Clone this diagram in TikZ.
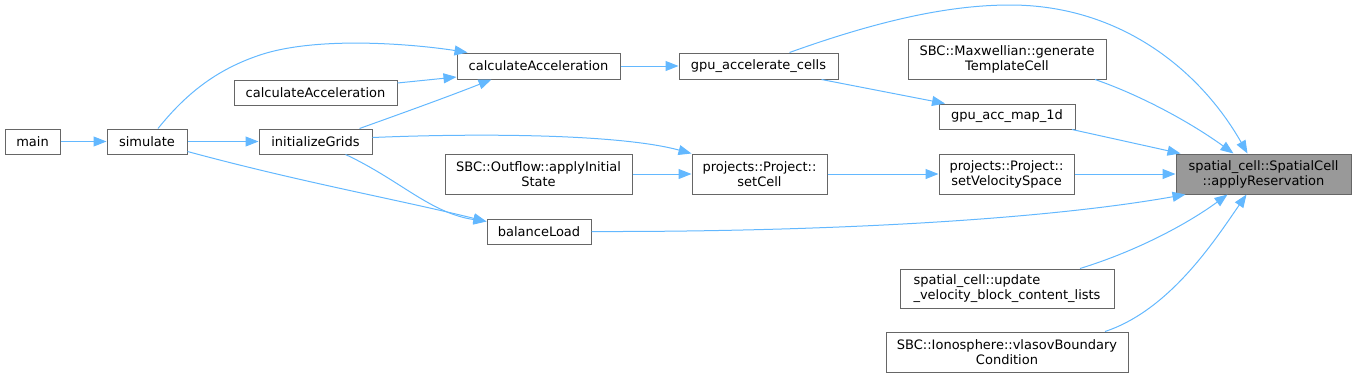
\documentclass[tikz,border=0pt]{standalone}
\usepackage{fontspec}
\setmainfont{DejaVu Sans}
\usetikzlibrary{arrows.meta}
\definecolor{edgeblue}{HTML}{63B8FF}
\definecolor{nodeborder}{HTML}{666666}
\definecolor{hifill}{HTML}{999999}
\begin{document}
\begin{tikzpicture}[x=1pt,y=-1pt,
  fn/.style={draw=nodeborder, line width=1pt, fill=white, inner sep=0pt, align=center,
     font=\fontsize{13}{15}\selectfont, anchor=center},
  hi/.style={fn, fill=hifill},
  call/.style={draw=edgeblue, line width=1pt, -{Triangle[length=13pt,width=10pt]}, edgeblue}]
\useasboundingbox (0,0) rectangle (1356,378);
% nodes
\node[fn, minimum width=55pt, minimum height=25pt] (main) at (32.5,141.5) {main};
\node[fn, minimum width=80pt, minimum height=25pt] (simulate) at (147,141.5) {simulate};
\node[fn, minimum width=163pt, minimum height=26pt] (calcTop) at (538.5,66) {calculateAcceleration};
\node[fn, minimum width=163pt, minimum height=25pt] (calcTwo) at (315.5,92.5) {calculateAcceleration};
\node[fn, minimum width=113pt, minimum height=25pt] (initGrids) at (315.5,141.5) {initializeGrids};
\node[fn, minimum width=159pt, minimum height=26pt] (gpuCells) at (758.5,66) {gpu\_accelerate\_cells};
\node[fn, minimum width=187pt, minimum height=40pt] (outflow) at (538.5,174) {SBC::Outflow::applyInitial\\State};
\node[fn, minimum width=135pt, minimum height=40pt] (setCell) at (759.5,174) {projects::Project::\\setCell};
\node[fn, minimum width=104pt, minimum height=25pt] (balance) at (539,231.5) {balanceLoad};
\node[fn, minimum width=198pt, minimum height=40pt] (maxw) at (1007,59) {SBC::Maxwellian::generate\\TemplateCell};
\node[fn, minimum width=136pt, minimum height=25pt] (accmap) at (1007,116.5) {gpu\_acc\_map\_1d};
\node[fn, minimum width=135pt, minimum height=40pt] (setVel) at (1006.5,174) {projects::Project::\\setVelocitySpace};
\node[hi, minimum width=175pt, minimum height=40pt] (applyRes) at (1263.5,174) {spatial\_cell::SpatialCell\\::applyReservation};
\node[fn, align=left, minimum width=214pt, minimum height=39pt] (update) at (1007,288.5) {spatial\_cell::update\\\_velocity\_block\_content\_lists};
\node[fn, minimum width=242pt, minimum height=40pt] (iono) at (1007,352) {SBC::Ionosphere::vlasovBoundary\\Condition};
% edges
\draw[call] (main) -- (simulate);
\draw[call] (simulate) -- (initGrids);
\draw[call] ([xshift=11pt]simulate.north) .. controls (185,95) and (215,70) .. (260,55)
   .. controls (320,35) and (420,45) .. ([xshift=11pt]calcTop.north west);
\draw[call] ([yshift=3pt]simulate.south east) .. controls (300,182) and (400,200) .. ([yshift=10pt]balance.west);
\draw[call] ([yshift=9.5pt]calcTwo.east) -- ([yshift=-11pt]calcTop.west);
\draw[call] ([xshift=44pt]initGrids.north) .. controls (400,114) and (450,96) .. ([xshift=-47pt]calcTop.south);
\draw[call] ([yshift=4pt]initGrids.east) .. controls (480,133) and (620,134) .. (setCell.north west);
\draw[call] ([xshift=30pt]initGrids.south) .. controls (400,180) and (430,213) .. ([yshift=10pt]balance.west);
\draw[call] (calcTop) -- (gpuCells);
\draw[call] ([xshift=31pt]gpuCells.north) .. controls (880,20) and (950,5) .. (1010,5)
   .. controls (1120,5) and (1200,70) .. ([xshift=-16pt]applyRes.north);
\draw[call] ([xshift=63pt]gpuCells.south) -- ([xshift=-62pt]accmap.north);
\draw[call] (outflow) -- (setCell);
\draw[call] (setCell) -- (setVel);
\draw[call] (setVel) -- (applyRes);
\draw[call] ([xshift=88pt]maxw.south) .. controls (1140,95) and (1190,122) .. ([xshift=-30pt]applyRes.north);
\draw[call] ([xshift=65pt]accmap.south) -- ([xshift=-83pt]applyRes.north);
\draw[call] (balance.east) .. controls (800,232) and (1030,222) .. ([xshift=-78pt]applyRes.south);
\draw[call] ([xshift=73pt]update.north) .. controls (1140,250) and (1190,222) .. ([xshift=-36pt]applyRes.south);
\draw[call] ([xshift=98pt]iono.north) .. controls (1170,310) and (1215,240) .. ([xshift=-17pt]applyRes.south);
\end{tikzpicture}
\end{document}
